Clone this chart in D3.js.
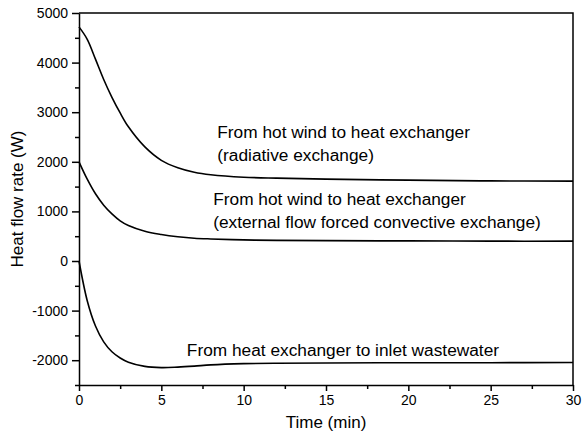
<!DOCTYPE html>
<html>
<head>
<meta charset="utf-8">
<script src="https://cdn.jsdelivr.net/npm/d3@7"></script>
<style>
  body { margin: 0; background: #fff; }
  svg { display: block; font-family: "Liberation Sans", Arial, sans-serif; }
  .axis path, .axis line { stroke: #000; stroke-width: 1.5px; }
  .axis text { font-size: 14px; fill: #000; }
  .curve { fill: none; stroke: #000; stroke-width: 1.6px; }
  .note { font-size: 17.3px; fill: #000; }
  .axis-title { font-size: 17px; fill: #000; }
</style>
</head>
<body>
<svg id="chart"></svg>
<script>
// Time axis (min), shared by the three curves
const timeMin = [0, 0.5, 1, 1.5, 2, 2.5, 3, 4, 5, 6, 7, 8, 10, 12, 15, 20, 25, 30];

// Heat flow rate (W)
const radiative = [4720, 4470, 4070, 3660, 3300, 2985, 2705, 2300, 2030, 1880, 1790, 1740, 1690, 1670, 1650, 1630, 1615, 1610];
const convective = [2000, 1650, 1355, 1125, 950, 810, 715, 600, 535, 490, 460, 445, 425, 415, 410, 405, 400, 400];
const wastewater = [0, -800, -1310, -1630, -1830, -1955, -2040, -2125, -2150, -2140, -2120, -2095, -2070, -2060, -2055, -2050, -2050, -2045];

const xTicks = [0, 5, 10, 15, 20, 25, 30];
const yTicks = [-2000, -1000, 0, 1000, 2000, 3000, 4000, 5000];

// Annotation text: [time, value, lines]
const notes = [
  { t: 8.4, v: 2470, lines: ['From hot wind to heat exchanger', '(radiative exchange)'] },
  { t: 8.15, v: 1120, lines: ['From hot wind to heat exchanger', '(external flow forced convective exchange)'] },
  { t: 6.55, v: -1910, lines: ['From heat exchanger to inlet wastewater'] }
];

class LineChart {
  constructor(_config) {
    this.config = {
      parentElement: _config.parentElement,
      containerWidth: 582,
      containerHeight: 441,
      margin: { top: 13, right: 9, bottom: 56, left: 79 }
    };
    this.initVis();
  }

  initVis() {
    let vis = this;

    vis.config.width = vis.config.containerWidth - vis.config.margin.left - vis.config.margin.right;
    vis.config.height = vis.config.containerHeight - vis.config.margin.top - vis.config.margin.bottom;

    vis.svg = d3.select(vis.config.parentElement)
      .attr('width', vis.config.containerWidth)
      .attr('height', vis.config.containerHeight);

    vis.chartArea = vis.svg.append('g')
      .attr('transform', `translate(${vis.config.margin.left},${vis.config.margin.top})`);

    vis.xScale = d3.scaleLinear().domain([0, 30]).range([0, vis.config.width]);
    vis.yScale = d3.scaleLinear().domain([-2500, 5000]).range([vis.config.height, 0]);

    // Minor ticks first
    vis.chartArea.append('g')
      .attr('class', 'axis')
      .attr('transform', `translate(0,${vis.config.height})`)
      .call(d3.axisBottom(vis.xScale).tickValues(d3.range(2.5, 30, 5)).tickSize(4).tickFormat(''))
      .call(g => g.select('.domain').remove());

    vis.chartArea.append('g')
      .attr('class', 'axis')
      .call(d3.axisLeft(vis.yScale).tickValues(d3.range(-2500, 5000, 1000)).tickSize(4).tickFormat(''))
      .call(g => g.select('.domain').remove());

    // Major axes
    vis.chartArea.append('g')
      .attr('class', 'axis x-axis')
      .attr('transform', `translate(0,${vis.config.height})`)
      .call(d3.axisBottom(vis.xScale).tickValues(xTicks).tickSize(6).tickSizeOuter(0).tickPadding(4).tickFormat(d => String(d)));

    vis.chartArea.append('g')
      .attr('class', 'axis y-axis')
      .call(d3.axisLeft(vis.yScale).tickValues(yTicks).tickSize(7).tickSizeOuter(0).tickPadding(4).tickFormat(d => String(d)));

    // Frame on top and right
    vis.chartArea.append('path')
      .attr('d', `M0,0H${vis.config.width}V${vis.config.height}`)
      .attr('fill', 'none')
      .attr('stroke', '#000')
      .attr('stroke-width', 1.5);

    // Axis titles
    vis.chartArea.append('text')
      .attr('class', 'axis-title')
      .attr('x', vis.config.width / 2)
      .attr('y', vis.config.height + 43)
      .attr('text-anchor', 'middle')
      .text('Time (min)');

    vis.chartArea.append('text')
      .attr('class', 'axis-title')
      .attr('transform', `translate(-56,${vis.config.height / 2}) rotate(-90)`)
      .attr('text-anchor', 'middle')
      .text('Heat flow rate (W)');

    vis.line = d3.line()
      .x(d => vis.xScale(d[0]))
      .y(d => vis.yScale(d[1]))
      .curve(d3.curveCatmullRom.alpha(0.5));

    vis.updateVis();
  }

  updateVis() {
    let vis = this;
    vis.series = [radiative, convective, wastewater]
      .map(vals => vals.map((v, i) => [timeMin[i], v]));
    vis.renderVis();
  }

  renderVis() {
    let vis = this;

    vis.chartArea.selectAll('.curve')
      .data(vis.series)
      .join('path')
      .attr('class', 'curve')
      .attr('d', vis.line);

    const noteG = vis.chartArea.selectAll('.note')
      .data(notes)
      .join('text')
      .attr('class', 'note')
      .attr('x', d => vis.xScale(d.t))
      .attr('y', d => vis.yScale(d.v));

    noteG.selectAll('tspan')
      .data(d => d.lines.map((l, i) => ({ l, i, x: vis.xScale(d.t) })))
      .join('tspan')
      .attr('x', d => d.x)
      .attr('dy', d => d.i === 0 ? 0 : 22.5)
      .text(d => d.l);
  }
}

const chart = new LineChart({ parentElement: '#chart' });
</script>
</body>
</html>
